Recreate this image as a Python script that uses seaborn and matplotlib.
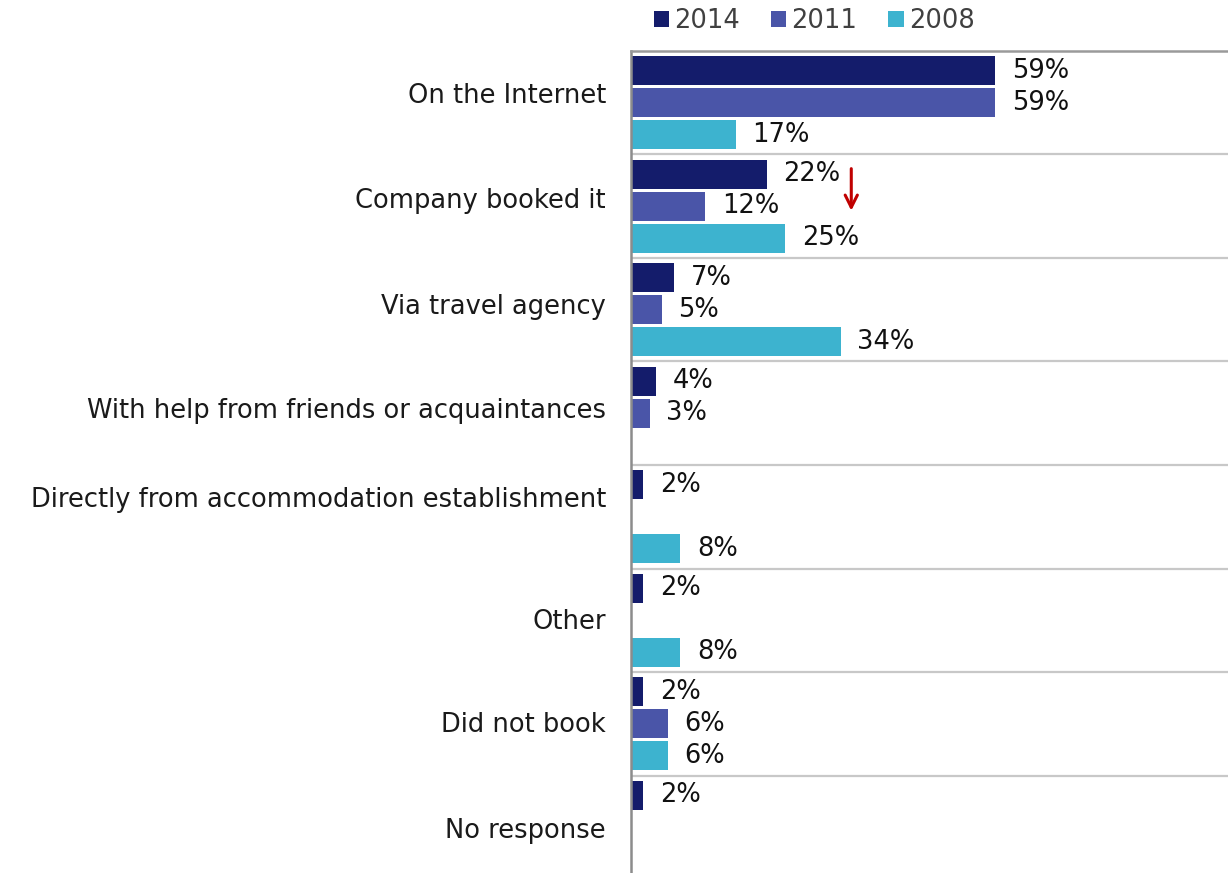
import numpy as np
import pandas as pd
import matplotlib
matplotlib.use("Agg")
import matplotlib.pyplot as plt
import matplotlib.transforms as mtransforms
import seaborn as sns

categories = [
    "On the Internet",
    "Company booked it",
    "Via travel agency",
    "With help from friends or acquaintances",
    "Directly from accommodation establishment",
    "Other",
    "Did not book",
    "No response",
]
years = ["2014", "2011", "2008"]
values_2014 = [59, 22, 7, 4, 2, 2, 2, 2]
values_2011 = [59, 12, 5, 3, None, None, 6, None]
values_2008 = [17, 25, 34, None, 8, 8, 6, None]

palette = {"2014": "#141C6B", "2011": "#4A55A8", "2008": "#3DB3CF"}

rows = []
for year, vals in zip(years, [values_2014, values_2011, values_2008]):
    for cat, v in zip(categories, vals):
        if v is not None:
            rows.append({"category": cat, "year": year, "share": v})
df = pd.DataFrame(rows)

sns.set_theme(style="white")
plt.rcParams["font.family"] = ["DejaVu Sans"]
FS = 18.5

fig = plt.figure(figsize=(12.28, 8.73), dpi=100)
ax = fig.add_axes([631 / 1228, 0.0, 597 / 1228, (873 - 51) / 873])

sns.barplot(
    data=df, y="category", x="share", hue="year",
    order=categories, hue_order=years, palette=palette,
    orient="h", width=0.93, gap=0.09, saturation=1,
    edgecolor="none", linewidth=0, legend=True, ax=ax,
)

ax.set_xlim(0, 597 / 6.17)
ax.set_ylim(-0.5 + 822 / 103.5, -0.5)
ax.set_xlabel("")
ax.set_ylabel("")
ax.set_xticks([])
ax.tick_params(axis="y", length=0, pad=18, labelsize=FS, labelcolor="#1a1a1a")

# nudge category labels vertically (pixels, positive = up)
label_shift = [10, 8, 6, 5, 20, 1, 2, -1]
for lbl, dy in zip(ax.get_yticklabels(), label_shift):
    lbl.set_transform(lbl.get_transform() +
                      mtransforms.ScaledTranslation(0, dy / 100, fig.dpi_scale_trans))

# value labels beside each bar
n = len(years)
slot = 0.93 / n
for j, year in enumerate(years):
    sub = df[df["year"] == year]
    for _, r in sub.iterrows():
        i = categories.index(r["category"])
        y = i - 0.93 / 2 + slot * (j + 0.5)
        ax.text(r["share"] + 2.7, y, f"{r['share']:.0f}%", va="center", ha="left",
                fontsize=FS, color="#111111")

# separators between groups
for k in range(len(categories) - 1):
    ax.axhline(k + 0.5, color="#C8C8C8", lw=1.6, zorder=0)

for s in ["right", "bottom"]:
    ax.spines[s].set_visible(False)
ax.spines["top"].set_color("#9A9A9A")
ax.spines["top"].set_linewidth(1.8)
ax.spines["left"].set_color("#8C8C8C")
ax.spines["left"].set_linewidth(1.8)

# downward arrow marking the decline for company bookings
ax.annotate("", xy=(35.7, 1.07), xytext=(35.7, 0.61),
            arrowprops=dict(arrowstyle="->", color="#C00000", lw=2.2,
                            mutation_scale=22))

handles, labels = ax.get_legend_handles_labels()
ax.legend(handles, labels, loc="lower center", bbox_to_anchor=(0.307, 1.0),
          ncol=3, frameon=False, fontsize=FS, handlelength=0.6,
          handleheight=0.6, handletextpad=0.2, columnspacing=1.2,
          labelcolor="#404040", borderaxespad=0.25)

fig.savefig("out.png", dpi=100)
